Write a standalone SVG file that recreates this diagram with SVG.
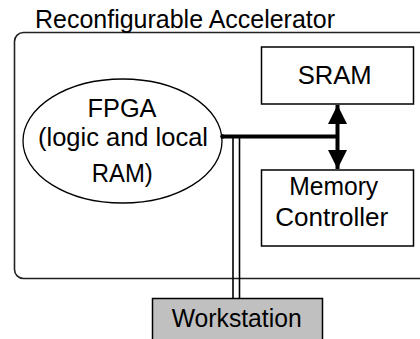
<svg xmlns="http://www.w3.org/2000/svg" width="420" height="339" viewBox="0 0 420 339">
<style>
text{font-family:"Liberation Sans",Arial,sans-serif;font-size:26.5px;fill:#000;text-anchor:middle}
.title{font-size:25px;text-anchor:start}
.box{fill:#fff;stroke:#000;stroke-width:1.5}
.thin{stroke:#000;stroke-width:1.6;fill:none}
.thick{stroke:#000;stroke-width:4;fill:none}
</style>
<defs>
<marker id="ah" markerUnits="userSpaceOnUse" markerWidth="20" markerHeight="20" viewBox="0 0 20 20" refX="19" refY="10" orient="auto-start-reverse">
<path d="M0,0.5 L19,10 L0,19.5 Z" fill="#000"/>
</marker>
</defs>
<rect width="420" height="339" fill="#fff"/>
<g id="accelerator">
<rect x="14.5" y="32.5" width="430" height="246" rx="9" fill="none" stroke="#222" stroke-width="1.6"/>
<text class="title" x="35" y="27.5" textLength="300" lengthAdjust="spacingAndGlyphs">Reconfigurable Accelerator</text>
</g>
<g id="fpga">
<ellipse cx="122.5" cy="141" rx="99.5" ry="62" fill="#fff" stroke="#000" stroke-width="1.3"/>
<text x="122" y="117" textLength="69" lengthAdjust="spacingAndGlyphs">FPGA</text>
<text x="123" y="145.5" textLength="170" lengthAdjust="spacingAndGlyphs">(logic and local</text>
<text x="122.3" y="181.5" textLength="61" lengthAdjust="spacingAndGlyphs">RAM)</text>
</g>
<g id="sram">
<rect class="box" x="261.5" y="47" width="152" height="57"/>
<text x="334.7" y="84" textLength="74" lengthAdjust="spacingAndGlyphs">SRAM</text>
</g>
<g id="memctrl">
<rect class="box" x="261.5" y="170" width="152" height="76"/>
<text x="333.7" y="195" textLength="89" lengthAdjust="spacingAndGlyphs">Memory</text>
<text x="331.7" y="226" textLength="113" lengthAdjust="spacingAndGlyphs">Controller</text>
</g>
<g id="workstation">
<rect x="152.5" y="298.5" width="170" height="50" fill="#c0c0c0" stroke="#000" stroke-width="1.5"/>
<text x="236.7" y="326.5" textLength="130" lengthAdjust="spacingAndGlyphs">Workstation</text>
</g>
<g id="connectors">
<line class="thick" x1="222" y1="136.5" x2="339" y2="136.5"/>
<circle cx="222.5" cy="136.5" r="2.3" fill="#000"/>
<line class="thick" x1="337.5" y1="105" x2="337.5" y2="169" marker-start="url(#ah)" marker-end="url(#ah)"/>
<line class="thin" x1="233" y1="137" x2="233" y2="298.5"/>
<line class="thin" x1="239.5" y1="137" x2="239.5" y2="298.5"/>
</g>
</svg>
